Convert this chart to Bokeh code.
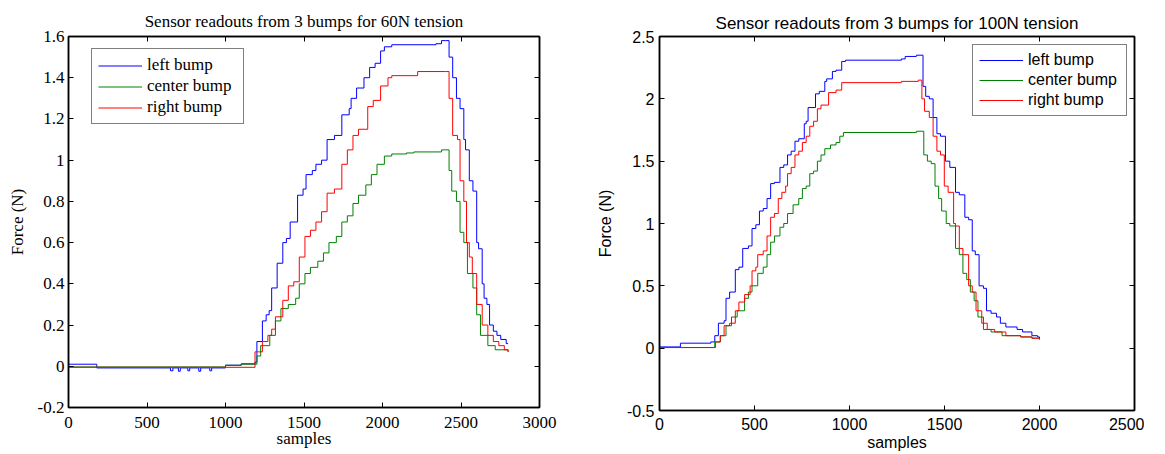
from bokeh.plotting import figure
from bokeh.models import LinearAxis, Legend, LegendItem, Range1d, FixedTicker, Title, CustomJSTickFormatter
from bokeh.layouts import row
from bokeh.embed import file_html
from bokeh.resources import INLINE

# ---------------- 60N tension (left chart) ----------------
l60_x = [0, 180, 650, 665, 700, 712, 760, 772, 830, 842, 900, 912, 1000, 1100, 1188, 1200, 1235, 1259, 1278, 1294, 1329, 1365,
         1388, 1412, 1459, 1494, 1513, 1553, 1576, 1612, 1647, 1694, 1741, 1788, 1800, 1835, 1882, 1918, 1953,
         1988, 2012, 2059, 2341, 2376, 2400, 2424, 2447, 2471, 2494, 2518, 2529, 2553, 2576, 2600, 2612, 2635,
         2647, 2665, 2682, 2706, 2729, 2753, 2788, 2800]
l60_y = [0.01, -0.008, -0.022, -0.008, -0.024, -0.008, -0.022, -0.008, -0.024, -0.008, -0.022, -0.008, 0.005, 0.012, 0.02, 0.12, 0.22, 0.25, 0.27, 0.38, 0.5, 0.6,
         0.62, 0.7, 0.83, 0.86, 0.93, 0.95, 0.98, 1.0, 1.1, 1.12, 1.22, 1.25, 1.3, 1.35, 1.4, 1.45, 1.47,
         1.53, 1.55, 1.56, 1.565, 1.58, 1.58, 1.5, 1.4, 1.3, 1.25, 1.1, 1.05, 0.9, 0.85, 0.6, 0.57, 0.4,
         0.33, 0.3, 0.2, 0.17, 0.15, 0.13, 0.11, 0.11]

c60_x = [0, 1000, 1100, 1200, 1224, 1282, 1318, 1353, 1400, 1447, 1470, 1506, 1541, 1588, 1624, 1659, 1706,
         1741, 1776, 1812, 1847, 1894, 1929, 1965, 2012, 2059, 2153, 2200, 2376, 2400, 2424, 2441, 2471, 2494,
         2518, 2541, 2576, 2600, 2624, 2671, 2718, 2800]
c60_y = [-0.003, 0.005, 0.01, 0.05, 0.1, 0.15, 0.22, 0.28, 0.3, 0.33, 0.4, 0.45, 0.48, 0.51, 0.55, 0.6, 0.63,
         0.7, 0.73, 0.79, 0.83, 0.88, 0.93, 0.98, 1.02, 1.03, 1.035, 1.04, 1.05, 1.05, 0.95, 0.85, 0.8, 0.65,
         0.6, 0.45, 0.38, 0.25, 0.15, 0.1, 0.08, 0.07]

r60_x = [0, 1188, 1212, 1235, 1270, 1294, 1318, 1365, 1400, 1435, 1470, 1506, 1541, 1576, 1612, 1647, 1694,
         1741, 1776, 1812, 1847, 1906, 1941, 1988, 2035, 2059, 2224, 2400, 2424, 2447, 2478, 2494, 2518, 2535,
         2553, 2572, 2600, 2635, 2671, 2706, 2741, 2776, 2800]
r60_y = [-0.005, 0.07, 0.07, 0.12, 0.15, 0.18, 0.24, 0.32, 0.39, 0.41, 0.53, 0.63, 0.66, 0.7, 0.75, 0.84, 0.86,
         0.98, 1.05, 1.12, 1.15, 1.26, 1.29, 1.36, 1.4, 1.41, 1.43, 1.43, 1.3, 1.12, 1.1, 0.9, 0.8, 0.6,
         0.53, 0.45, 0.3, 0.2, 0.15, 0.12, 0.1, 0.08, 0.07]

# ---------------- 100N tension (right chart) ----------------
l100_x = [0, 110, 270, 291, 310, 340, 350, 369, 399, 418, 438, 468, 487, 507, 526, 546, 566, 585, 605, 634,
          654, 674, 693, 713, 733, 762, 772, 782, 821, 841, 870, 880, 910, 929, 959, 979, 1273, 1293, 1352,
          1371, 1387, 1401, 1420, 1440, 1460, 1479, 1505, 1528, 1558, 1578, 1607, 1627, 1646, 1662, 1682,
          1705, 1721, 1745, 1774, 1794, 1823, 1882, 1911, 1960, 1990, 2000]
l100_y = [0.01, 0.04, 0.05, 0.1, 0.2, 0.22, 0.4, 0.45, 0.63, 0.65, 0.8, 0.82, 0.96, 0.99, 1.1, 1.12, 1.2, 1.32, 1.33, 1.45,
          1.47, 1.55, 1.58, 1.66, 1.68, 1.8, 1.82, 1.93, 2.04, 2.06, 2.14, 2.16, 2.22, 2.23, 2.3, 2.31, 2.32, 2.34, 2.35,
          2.35, 2.1, 2.02, 2.0, 1.85, 1.72, 1.7, 1.5, 1.45, 1.25, 1.23, 1.05, 1.03, 0.78, 0.75, 0.5,
          0.48, 0.3, 0.28, 0.25, 0.2, 0.17, 0.15, 0.13, 0.1, 0.09, 0.08]

c100_x = [0, 291, 320, 350, 379, 409, 448, 468, 487, 517, 546, 566, 585, 605, 634, 654, 674, 703, 733, 752,
          772, 791, 811, 831, 850, 870, 900, 929, 949, 968, 1352, 1371, 1391, 1410, 1430, 1450, 1469, 1485,
          1509, 1528, 1558, 1578, 1597, 1617, 1636, 1656, 1676, 1705, 1745, 1803, 1901, 1960, 2000]
c100_y = [0.005, 0.05, 0.1, 0.18, 0.25, 0.3, 0.4, 0.45, 0.5, 0.6, 0.65, 0.75, 0.85, 0.9, 0.97, 1.0, 1.08, 1.15, 1.2, 1.28,
          1.3, 1.4, 1.42, 1.5, 1.55, 1.6, 1.63, 1.65, 1.7, 1.73, 1.74, 1.74, 1.55, 1.5, 1.48, 1.3, 1.2, 1.1,
          1.0, 0.98, 0.8, 0.75, 0.6, 0.55, 0.45, 0.38, 0.25, 0.15, 0.13, 0.1, 0.09, 0.08, 0.07]

r100_x = [0, 295, 320, 340, 369, 399, 418, 448, 477, 487, 507, 517, 546, 566, 585, 605, 625, 644, 664, 674,
          693, 713, 733, 752, 772, 791, 811, 831, 850, 890, 929, 959, 1273, 1362, 1371, 1381, 1395, 1420,
          1440, 1460, 1479, 1499, 1519, 1548, 1558, 1578, 1597, 1627, 1646, 1666, 1696, 1725, 1764, 1823,
          1901, 1960, 2000]
r100_y = [0.005, 0.05, 0.1, 0.18, 0.2, 0.3, 0.37, 0.43, 0.5, 0.62, 0.65, 0.75, 0.78, 0.9, 1.05, 1.08, 1.2, 1.25, 1.3, 1.4,
          1.45, 1.55, 1.58, 1.65, 1.7, 1.78, 1.82, 1.92, 1.95, 2.05, 2.07, 2.13, 2.14, 2.15, 2.15, 2.0, 1.9, 1.85,
          1.7, 1.58, 1.55, 1.3, 1.25, 1.0, 0.98, 0.8, 0.75, 0.5, 0.45, 0.3, 0.2, 0.15, 0.13, 0.1,
          0.09, 0.08, 0.07]

labels = ["left bump", "center bump", "right bump"]
colors = ["#0000ff", "#008000", "#ff0000"]


def make_plot(title, series, xr, yr, xticks, yticks, font, fs, title_fs, frame_w, frame_h, border_left,
              border_right, border_top, border_bottom, legend_loc, title_standoff, ytick_standoff,
              ylabel_standoff, xtick_standoff, xlabel_standoff, leg_label_w, leg_label_h, leg_spacing):
    p = figure(frame_width=frame_w, frame_height=frame_h, output_backend="svg", toolbar_location=None,
               x_range=Range1d(*xr), y_range=Range1d(*yr), min_border_left=border_left,
               min_border_right=border_right, min_border_top=border_top, min_border_bottom=border_bottom)
    p.title = Title(text=title, align="center", text_font=font, text_font_size=title_fs,
                    text_font_style="normal", text_color="black", offset=0, standoff=title_standoff)
    p.xgrid.visible = False
    p.ygrid.visible = False
    p.outline_line_color = "black"
    p.outline_line_width = 1.5
    p.background_fill_color = "white"
    p.border_fill_color = "white"
    renderers = []
    for (xs, ys), col in zip(series, colors):
        r = p.step(xs, ys, mode="after", line_color=col, line_width=1)
        renderers.append(r)
    for ax in (p.xaxis[0], p.yaxis[0]):
        ax.major_tick_in = 5
        ax.major_tick_out = 0
        ax.minor_tick_line_color = None
        ax.axis_line_color = "black"
        ax.axis_line_width = 1.5
        ax.major_label_text_font = font
        ax.major_label_text_font_size = fs
        ax.major_label_text_color = "black"
        ax.axis_label_text_font = font
        ax.axis_label_text_font_size = fs
        ax.axis_label_text_font_style = "normal"
        ax.axis_label_text_color = "black"
    p.xaxis[0].ticker = FixedTicker(ticks=xticks)
    p.yaxis[0].ticker = FixedTicker(ticks=yticks)
    p.xaxis[0].axis_label = "samples"
    p.yaxis[0].axis_label = "Force (N)"
    p.xaxis[0].major_label_standoff = xtick_standoff
    p.yaxis[0].major_label_standoff = ytick_standoff
    p.xaxis[0].axis_label_standoff = xlabel_standoff
    p.yaxis[0].axis_label_standoff = ylabel_standoff
    p.yaxis[0].formatter = CustomJSTickFormatter(
        code="return (Math.abs(tick) < 1e-9) ? '0' : String(Math.round(tick*10)/10);")
    blank = CustomJSTickFormatter(code="return '';")
    # mirrored box axes (top / right) with inward ticks, no labels
    top = LinearAxis(ticker=FixedTicker(ticks=xticks), major_tick_in=5, major_tick_out=0, formatter=blank,
                     minor_tick_line_color=None, major_label_text_color=None, major_label_standoff=0,
                     axis_line_color="black", axis_line_width=1.5)
    right = LinearAxis(ticker=FixedTicker(ticks=yticks), major_tick_in=5, major_tick_out=0, formatter=blank,
                       minor_tick_line_color=None, major_label_text_color=None, major_label_standoff=0,
                       axis_line_color="black", axis_line_width=1.5)
    p.add_layout(top, "above")
    p.add_layout(right, "right")
    items = [LegendItem(label=lab, renderers=[r]) for lab, r in zip(labels, renderers)]
    leg = Legend(items=items, location=legend_loc, border_line_color="black", border_line_width=1.5,
                 label_text_font=font, label_text_font_size=fs, label_text_color="black",
                 glyph_width=44, glyph_height=leg_label_h, label_height=leg_label_h, label_width=leg_label_w,
                 label_standoff=5, spacing=leg_spacing, padding=6, margin=0, background_fill_alpha=1)
    p.add_layout(leg, "center")
    return p


p1 = make_plot("Sensor readouts from 3 bumps for 60N tension",
               [(l60_x, l60_y), (c60_x, c60_y), (r60_x, r60_y)],
               (0, 3000), (-0.2, 1.6), [0, 500, 1000, 1500, 2000, 2500, 3000],
               [-0.2, 0, 0.2, 0.4, 0.6, 0.8, 1.0, 1.2, 1.4, 1.6],
               "Liberation Serif", "17px", "17px", 471, 371, 68, 54, 36, 45, (23, 283),
               12, 4, 8, 9, -2, 90, 19, 1)
p2 = make_plot("Sensor readouts from 3 bumps for 100N tension",
               [(l100_x, l100_y), (c100_x, c100_y), (r100_x, r100_y)],
               (0, 2500), (-0.5, 2.5), [0, 500, 1000, 1500, 2000, 2500],
               [-0.5, 0, 0.5, 1.0, 1.5, 2.0, 2.5],
               "Liberation Sans", "16px", "17px", 475, 374, 62, 10, 33, 45, (313, 294),
               8, 5, 10, 7, 1, 92, 18, 2)

layout = row(p1, p2)
open("out.html", "w").write(file_html(layout, INLINE))
